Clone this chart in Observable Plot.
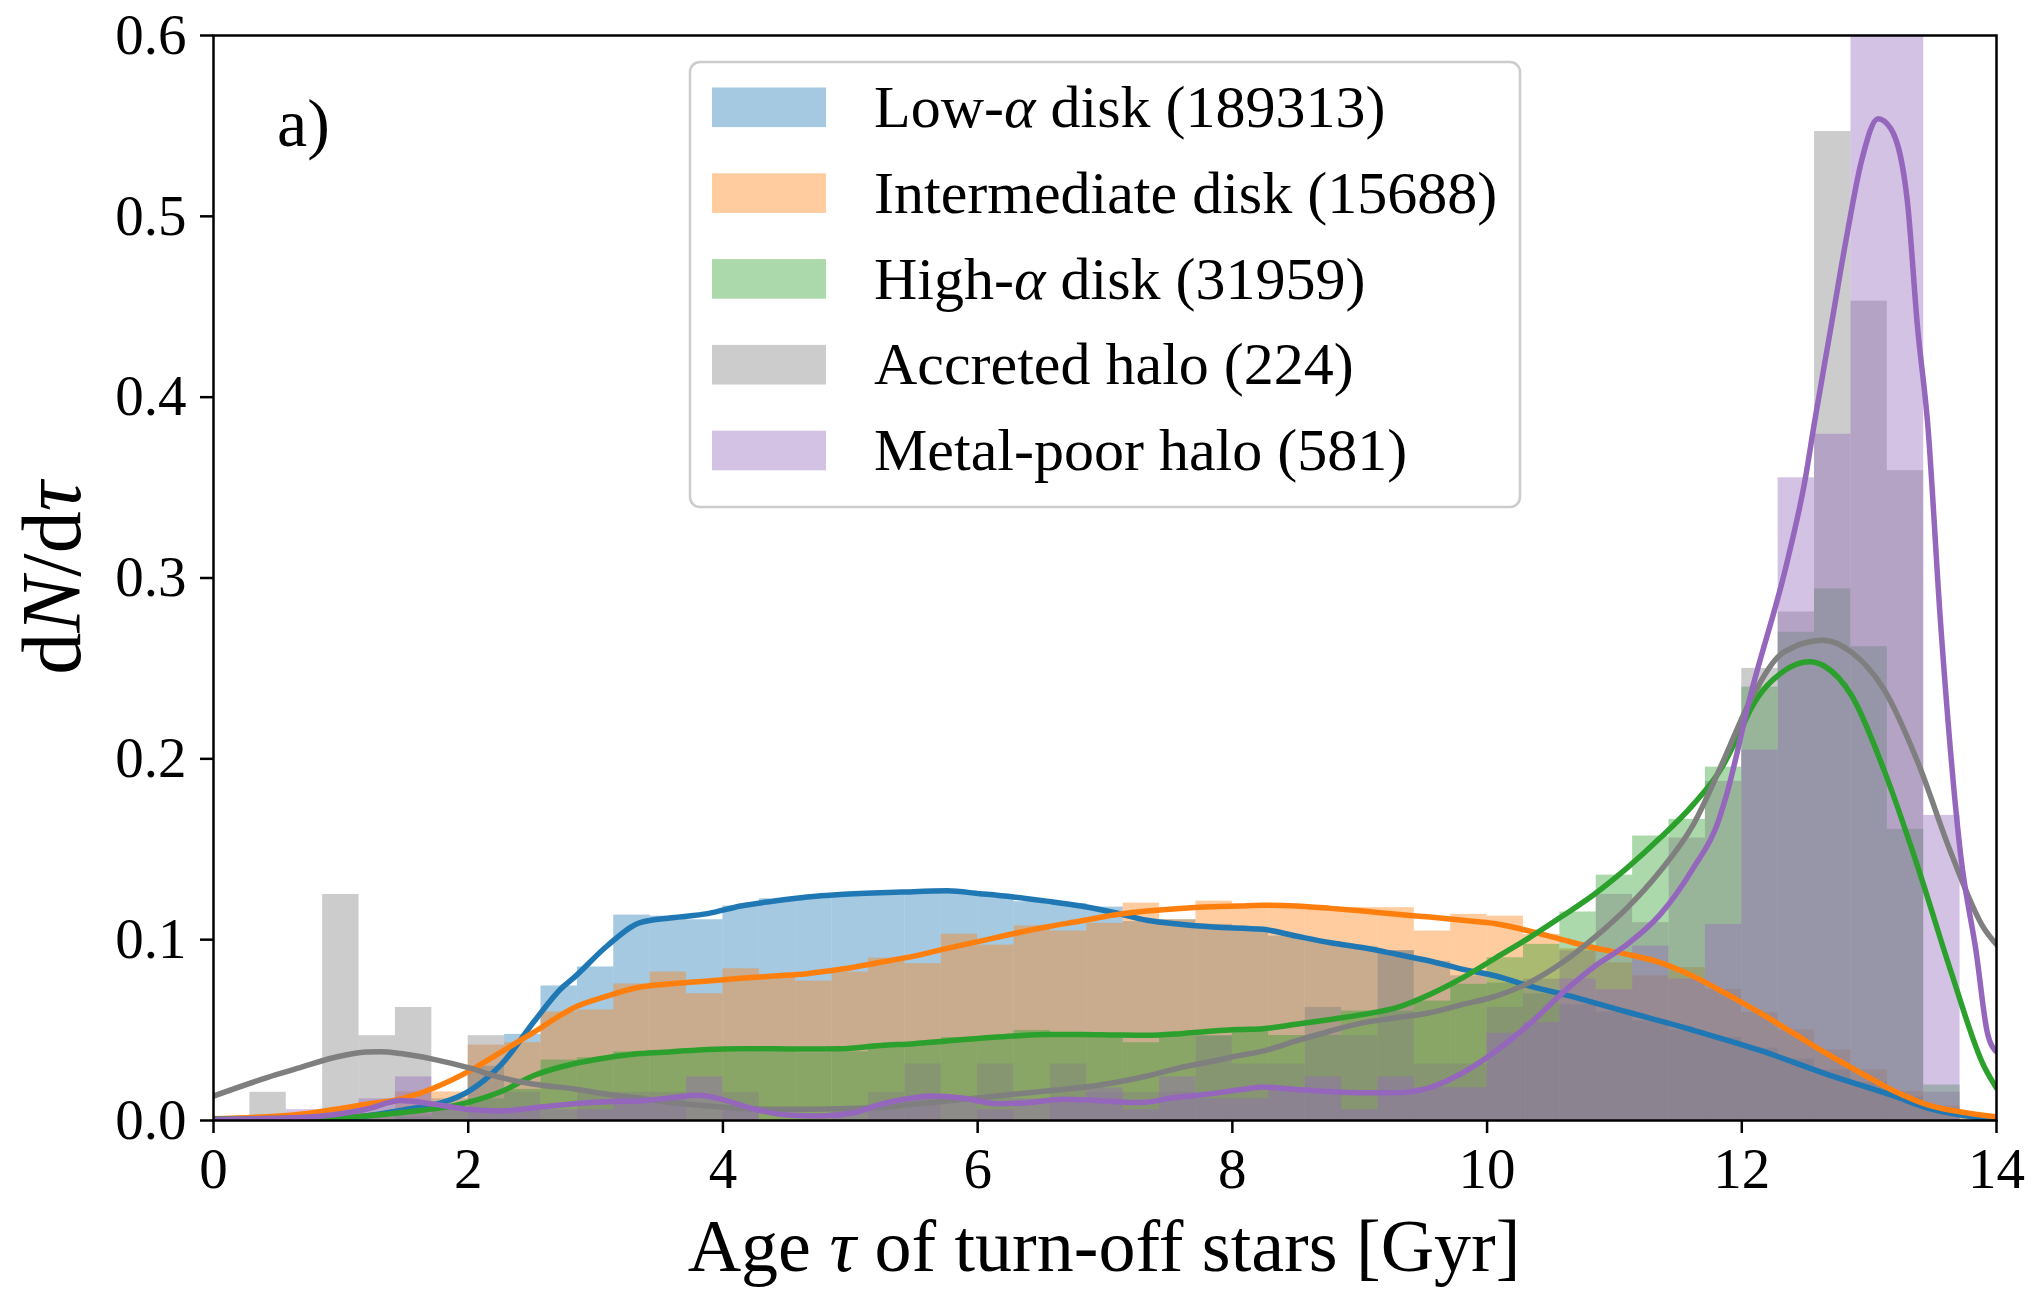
<!DOCTYPE html>
<html><head><meta charset="utf-8">
<script src="https://cdn.jsdelivr.net/npm/d3@7"></script>
<script src="https://cdn.jsdelivr.net/npm/@observablehq/plot@0.6"></script>
<style>
html,body{margin:0;padding:0;background:#fff;}
#chart{width:2036px;height:1290px;}
</style></head><body><div id="chart"></div>
<script>
// ---------- data ----------
const X_MAX = 14;      // histogram range (Gyr)
const N_BINS = 49;     // number of histogram bins
const xTicks = [0, 2, 4, 6, 8, 10, 12, 14];
const yTicks = [0.0, 0.1, 0.2, 0.3, 0.4, 0.5, 0.6];
const seriesNames = ["Low-α disk (189313)", "Intermediate disk (15688)", "High-α disk (31959)", "Accreted halo (224)", "Metal-poor halo (581)"];
const seriesColors = ["#1f77b4", "#ff7f0e", "#2ca02c", "#7f7f7f", "#9467bd"];

const lowAlphaHist = [0, 0, 0, 0, 0, 0.002, 0.012, 0.03, 0.0476, 0.0744, 0.0849, 0.1136, 0.113, 0.111, 0.1186, 0.1226, 0.1237, 0.125, 0.1256, 0.126, 0.127, 0.124, 0.121, 0.12, 0.118, 0.11, 0.111, 0.1085, 0.105, 0.102, 0.099, 0.096, 0.094, 0.088, 0.08, 0.076, 0.07, 0.064, 0.06, 0.055, 0.05, 0.046, 0.04, 0.034, 0.028, 0.021, 0.013, 0.006, 0.001];
const intermediateHist = [0, 0, 0.002, 0.002, 0.004, 0.0158, 0.0158, 0.0417, 0.043, 0.06, 0.0611, 0.0755, 0.0821, 0.0701, 0.0839, 0.08, 0.0771, 0.082, 0.0898, 0.0867, 0.103, 0.097, 0.1076, 0.1048, 0.109, 0.1202, 0.111, 0.1213, 0.1195, 0.1195, 0.118, 0.1177, 0.1177, 0.1048, 0.114, 0.113, 0.1029, 0.095, 0.0872, 0.08, 0.0845, 0.0725, 0.0597, 0.05, 0.039, 0.028, 0.016, 0.008, 0.002];
const highAlphaHist = [0, 0, 0, 0.001, 0.002, 0.004, 0.0062, 0.012, 0.0172, 0.0334, 0.0347, 0.0379, 0.0366, 0.038, 0.038, 0.038, 0.0375, 0.038, 0.0424, 0.043, 0.0458, 0.0458, 0.0498, 0.0467, 0.0458, 0.043, 0.0467, 0.0467, 0.0513, 0.047, 0.047, 0.0605, 0.0605, 0.066, 0.0753, 0.09, 0.0974, 0.1153, 0.1357, 0.1573, 0.1665, 0.1954, 0.2397, 0.27, 0.294, 0.262, 0.161, 0.0196, 0];
const accretedHist = [0, 0.0156, 0, 0.125, 0.0469, 0.0625, 0, 0.0469, 0.0156, 0, 0.0156, 0.0156, 0.0156, 0, 0.0156, 0, 0, 0, 0.0156, 0.0312, 0, 0.0312, 0, 0.0312, 0.0156, 0.0156, 0.0156, 0.0469, 0.0312, 0.0312, 0.0625, 0.0469, 0.0938, 0.0312, 0.0312, 0.0625, 0.0781, 0.0938, 0.125, 0.1094, 0.1562, 0.1875, 0.25, 0.2812, 0.5469, 0.4531, 0.3594, 0.0156, 0];
const metalPoorHist = [0, 0, 0.006, 0.006, 0.012, 0.0241, 0.006, 0.006, 0.006, 0.006, 0.006, 0.012, 0.012, 0.0241, 0.006, 0, 0, 0.006, 0.006, 0.012, 0.012, 0.006, 0.012, 0.012, 0.0181, 0.006, 0.0241, 0.012, 0.012, 0.0181, 0.0241, 0.006, 0.0241, 0.0181, 0.0181, 0.0482, 0.0542, 0.0783, 0.0723, 0.0964, 0.0783, 0.1084, 0.2048, 0.3554, 0.3795, 0.74, 0.735, 0.1687, 0];

const lowAlphaKde = [[0,0],[0.5,0.0002],[1.0,0.001],[1.5,0.006],[1.8,0.01],[2.0,0.016],[2.26,0.031],[2.52,0.055],[2.73,0.073],[2.83,0.079],[3.09,0.0965],[3.35,0.1094],[3.6,0.1121],[3.88,0.1144],[4.14,0.1186],[4.4,0.1213],[4.66,0.1236],[4.92,0.125],[5.4,0.1263],[5.76,0.127],[6.02,0.1254],[6.28,0.1236],[6.54,0.1213],[6.81,0.1186],[7.07,0.115],[7.33,0.1107],[7.59,0.1085],[7.85,0.107],[8.24,0.1057],[8.5,0.102],[8.77,0.0983],[9.03,0.0955],[9.29,0.0919],[9.55,0.0882],[9.81,0.0836],[10.07,0.0799],[10.33,0.0744],[10.6,0.0697],[11.1,0.06],[11.62,0.0499],[12.15,0.0386],[12.67,0.0255],[13.2,0.0134],[13.46,0.0069],[13.72,0.003],[14.0,0.0005]];
const intermediateKde = [[0,0.001],[0.68,0.0035],[1.2,0.009],[1.47,0.012],[1.73,0.018],[2.0,0.027],[2.26,0.038],[2.52,0.049],[2.83,0.0624],[3.09,0.0688],[3.35,0.0738],[3.6,0.0756],[3.88,0.0771],[4.14,0.0786],[4.4,0.0799],[4.66,0.0812],[4.92,0.0836],[5.24,0.0875],[5.5,0.0909],[5.76,0.0952],[6.02,0.0992],[6.28,0.1033],[6.54,0.107],[6.81,0.1103],[7.07,0.1136],[7.33,0.1158],[7.59,0.1173],[7.85,0.1182],[8.06,0.1186],[8.24,0.119],[8.5,0.1186],[8.77,0.1173],[9.03,0.1158],[9.29,0.114],[9.55,0.1125],[9.81,0.1107],[10.07,0.1088],[10.33,0.1048],[10.58,0.1002],[10.84,0.0955],[11.1,0.0919],[11.36,0.0873],[11.62,0.0797],[11.88,0.07],[12.15,0.0592],[12.41,0.048],[12.67,0.0368],[12.93,0.0265],[13.2,0.0162],[13.46,0.0087],[13.72,0.0047],[14.0,0.002]];
const highAlphaKde = [[0,0.0008],[0.94,0.0016],[1.47,0.0043],[2.0,0.01],[2.26,0.016],[2.52,0.025],[2.83,0.0314],[3.09,0.0347],[3.35,0.037],[3.6,0.038],[3.88,0.0393],[4.14,0.0397],[4.4,0.0397],[4.66,0.0395],[4.92,0.0397],[5.24,0.0415],[5.5,0.0425],[5.76,0.044],[6.28,0.0467],[6.54,0.0476],[6.81,0.0476],[7.07,0.0473],[7.33,0.0471],[7.59,0.048],[7.85,0.0495],[8.06,0.0503],[8.24,0.0508],[8.5,0.0532],[8.77,0.0559],[9.03,0.0587],[9.29,0.0624],[9.55,0.0697],[9.81,0.079],[10.07,0.09],[10.33,0.101],[10.58,0.1125],[10.84,0.125],[11.1,0.1397],[11.36,0.1563],[11.62,0.1748],[11.85,0.196],[11.98,0.214],[12.07,0.2275],[12.33,0.2485],[12.53,0.2537],[12.65,0.2512],[12.86,0.2353],[13.12,0.1932],[13.38,0.1407],[13.64,0.0829],[13.9,0.0303],[14.0,0.018]];
const accretedKde = [[0,0.0135],[0.42,0.0237],[0.68,0.0292],[0.94,0.0347],[1.2,0.0379],[1.31,0.038],[1.47,0.037],[1.73,0.0338],[2.0,0.0292],[2.26,0.0237],[2.52,0.02],[2.83,0.0175],[3.09,0.0145],[3.35,0.0123],[3.6,0.0099],[3.88,0.008],[4.14,0.0067],[4.4,0.0062],[4.66,0.0062],[4.92,0.0065],[5.24,0.0072],[5.5,0.009],[5.76,0.0108],[6.02,0.0126],[6.28,0.0145],[6.54,0.0163],[6.81,0.0182],[7.07,0.0209],[7.33,0.0246],[7.59,0.0292],[7.85,0.0329],[8.06,0.036],[8.24,0.0384],[8.5,0.044],[8.77,0.0495],[9.03,0.0541],[9.29,0.0568],[9.55,0.0596],[9.81,0.0642],[10.07,0.0688],[10.33,0.0762],[10.58,0.0868],[10.84,0.101],[11.1,0.1176],[11.36,0.138],[11.62,0.1637],[11.85,0.198],[12.07,0.2327],[12.33,0.259],[12.64,0.2656],[12.86,0.259],[13.12,0.238],[13.38,0.1985],[13.64,0.1485],[13.9,0.1065],[14.0,0.0973]];
const metalPoorKde = [[0,0.0006],[0.68,0.0016],[1.2,0.0062],[1.47,0.011],[1.73,0.009],[2.0,0.0062],[2.26,0.0053],[2.52,0.0071],[2.83,0.0093],[3.09,0.0104],[3.35,0.0108],[3.6,0.0126],[3.81,0.0139],[3.99,0.0117],[4.25,0.0062],[4.51,0.003],[4.77,0.0025],[5.03,0.0043],[5.24,0.009],[5.45,0.012],[5.63,0.0135],[5.89,0.0123],[6.15,0.0093],[6.41,0.0099],[6.67,0.0117],[6.93,0.0111],[7.28,0.0099],[7.54,0.0126],[7.8,0.0145],[8.06,0.017],[8.24,0.0185],[8.5,0.0172],[8.77,0.016],[9.03,0.0154],[9.29,0.0154],[9.55,0.0182],[9.81,0.0264],[10.07,0.0384],[10.33,0.0532],[10.6,0.071],[10.84,0.085],[11.1,0.0974],[11.36,0.114],[11.62,0.1397],[11.81,0.1643],[11.88,0.18],[12.07,0.2355],[12.36,0.31],[12.5,0.3554],[12.57,0.3857],[12.7,0.4386],[12.83,0.4914],[12.94,0.5306],[13.07,0.554],[13.17,0.5485],[13.3,0.5084],[13.38,0.4386],[13.46,0.385],[13.56,0.276],[13.72,0.146],[13.84,0.0934],[13.93,0.048],[14.0,0.038]];

const hists = [lowAlphaHist, intermediateHist, highAlphaHist, accretedHist, metalPoorHist];
const kdes = [lowAlphaKde, intermediateKde, highAlphaKde, accretedKde, metalPoorKde];

// ---------- tables ----------
const binRows = [];
hists.forEach((h, s) => h.forEach((v, k) => binRows.push({s, x1: k * X_MAX / N_BINS, x2: (k + 1) * X_MAX / N_BINS, y: v})));
const kdeRows = [];
kdes.forEach((kd, s) => kd.forEach(([x, y]) => kdeRows.push({s, x, y})));

const FONT = "'Liberation Serif', 'DejaVu Serif', serif";
const marks = [];
seriesColors.forEach((c, s) => {
  marks.push(Plot.rect(binRows.filter(d => d.s === s), {x1: "x1", x2: "x2", y1: 0, y2: "y", fill: c, fillOpacity: 0.4, clip: true}));
});
seriesColors.forEach((c, s) => {
  marks.push(Plot.line(kdeRows.filter(d => d.s === s), {x: "x", y: "y", stroke: c, strokeWidth: 5.5, curve: "monotone-x", clip: true}));
});
marks.push(Plot.axisX({ticks: xTicks, tickFormat: d => String(d), tickSize: 13, tickPadding: 14, strokeWidth: 2.5, fontSize: 57, label: null}));
marks.push(Plot.axisY({ticks: yTicks, tickFormat: d3.format(".1f"), tickSize: 13, tickPadding: 14, strokeWidth: 2.5, fontSize: 57, label: null}));
marks.push(Plot.frame({stroke: "black", strokeWidth: 2.5}));

const svg = Plot.plot({
  width: 2036, height: 1290,
  marginLeft: 213, marginRight: 40, marginTop: 35, marginBottom: 170,
  x: {domain: [0, X_MAX]},
  y: {domain: [0, 0.6]},
  style: {fontFamily: FONT, fontSize: "57px", background: "white", color: "black"},
  marks
});
document.getElementById("chart").appendChild(svg);

// ---------- annotations: labels, legend ----------
const root = d3.select(svg);
function richText(sel, str, italicChars) {
  let buf = "";
  for (const ch of str) {
    if (italicChars.includes(ch)) {
      if (buf) { sel.append("tspan").text(buf); buf = ""; }
      sel.append("tspan").attr("font-style", "italic").text(ch);
    } else buf += ch;
  }
  if (buf) sel.append("tspan").text(buf);
}
const xl = root.append("text").attr("x", 1104).attr("y", 1271).attr("text-anchor", "middle")
  .attr("font-family", FONT).attr("font-size", 74).attr("fill", "black");
richText(xl, "Age τ of turn-off stars [Gyr]", ["τ"]);
const yl = root.append("text").attr("transform", "translate(80,578) rotate(-90)").attr("text-anchor", "middle")
  .attr("font-family", FONT).attr("font-size", 84).attr("fill", "black");
richText(yl, "dN/dτ", ["N", "τ"]);
root.append("text").attr("x", 277).attr("y", 146).attr("text-anchor", "start").attr("font-family", FONT)
  .attr("font-size", 68).attr("fill", "black").text("a)");

const lg = root.append("g").attr("text-anchor", "start");
lg.append("rect").attr("x", 690).attr("y", 62).attr("width", 830).attr("height", 445).attr("rx", 10)
  .attr("fill", "white").attr("fill-opacity", 0.8).attr("stroke", "#cccccc").attr("stroke-width", 2.5);
seriesNames.forEach((name, i) => {
  const y0 = 87.5 + i * 85.8;
  lg.append("rect").attr("x", 712).attr("y", y0).attr("width", 114).attr("height", 39.6)
    .attr("fill", seriesColors[i]).attr("fill-opacity", 0.4);
  const t = lg.append("text").attr("x", 874).attr("y", y0 + 39.5).attr("text-anchor", "start")
    .attr("font-family", FONT).attr("font-size", 60).attr("fill", "black");
  richText(t, name, ["α"]);
});
</script></body></html>
